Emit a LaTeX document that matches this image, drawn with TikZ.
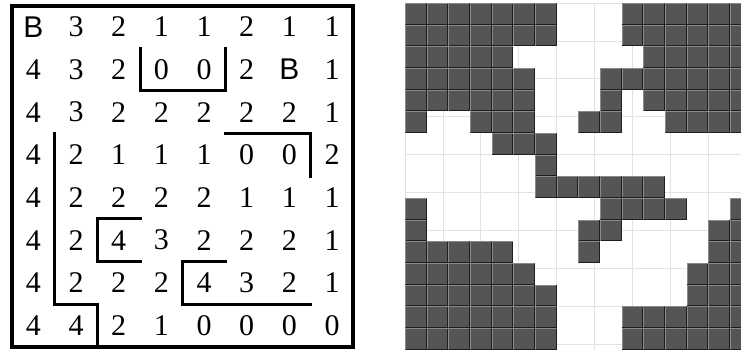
\documentclass[tikz,border=0pt]{standalone}
\usepackage{fontspec}
\setmainfont{Liberation Serif}
\newfontfamily\arialfont{Liberation Sans}
\newcommand{\bee}{{\arialfont B}}
\definecolor{pixdark}{HTML}{555555}
\definecolor{pixlight}{HTML}{8A8A8A}
\definecolor{pixedge}{HTML}{1E1E1E}
\definecolor{gridgray}{HTML}{E2E2E2}

\begin{document}
\begin{tikzpicture}[x=0.75pt,y=-0.75pt,
  num/.style={font=\fontsize{22.5}{27}\selectfont,inner sep=0pt},
  wall/.style={line width=2.25pt,line cap=rect,line join=miter},
  frame/.style={line width=3pt,line join=miter},
  gridline/.style={draw=gridgray,line width=0.6pt},
  pixhi/.style={draw=pixlight,line width=0.75pt},
  pixlo/.style={draw=pixedge,line width=0.75pt}]
\useasboundingbox (0,0) rectangle (741,350);

% distance map
\begin{scope}[shift={(12,5.5)},x=32pt,y=-32pt]
\foreach \row/\y/\vals in {A/0/{\bee,3,2,1,1,2,1,1},
                           B/1/{4,3,2,0,0,2,\bee,1},
                           C/2/{4,3,2,2,2,2,2,1},
                           D/3/{4,2,1,1,1,0,0,2},
                           E/4/{4,2,2,2,2,1,1,1},
                           F/5/{4,2,4,3,2,2,2,1},
                           G/6/{4,2,2,2,4,3,2,1},
                           H/7/{4,4,2,1,0,0,0,0}}
  \foreach \v [count=\c] in \vals
    \node[num] (\row\c) at (\c-0.5,\y+0.5) {\v};

\draw[frame] (0,0) rectangle (8,8);
\draw[wall] (3,1) -- (3,2) -- (5,2) -- (5,1);
\draw[wall] (5,3) -- (7,3) -- (7,4);
\draw[wall] (1,3) -- (1,7) -- (2,7) -- (2,8);
\draw[wall] (3,5) -- (2,5) -- (2,6) -- (3,6);
\draw[wall] (5,6) -- (4,6) -- (4,7) -- (7,7);
\end{scope}

% pixel map
\begin{scope}[shift={(405,3)},x=16.25pt,y=-16.25pt]
\clip (-0.2,-0.2) rectangle (15.506,16.2);
\draw[gridline] (0,0) grid (16,16);
\foreach \r/\a/\b in {0/0/6, 0/10/15, 1/0/6, 1/10/15,
                      2/0/4, 2/11/15, 3/0/5, 3/9/15,
                      4/0/5, 4/9/9, 4/11/15,
                      5/0/0, 5/3/5, 5/8/9, 5/12/15,
                      6/4/6, 7/6/6, 8/6/11,
                      9/0/0, 9/9/12, 9/15/15,
                      10/0/0, 10/8/9, 10/14/15,
                      11/0/4, 11/8/8, 11/14/15,
                      12/0/5, 12/13/15, 13/0/6, 13/13/15,
                      14/0/6, 14/10/15, 15/0/6, 15/10/15}
  \foreach \c in {\a,...,\b} {
    \fill[pixdark] (\c,\r) rectangle ++(1,1);
    \draw[pixhi] (\c+0.03,\r+0.97) -- ++(0,-0.94) -- ++(0.94,0);
    \draw[pixlo] (\c+0.97,\r+0.03) -- ++(0,0.94) -- ++(-0.94,0);
  }
\end{scope}
\end{tikzpicture}
\end{document}
